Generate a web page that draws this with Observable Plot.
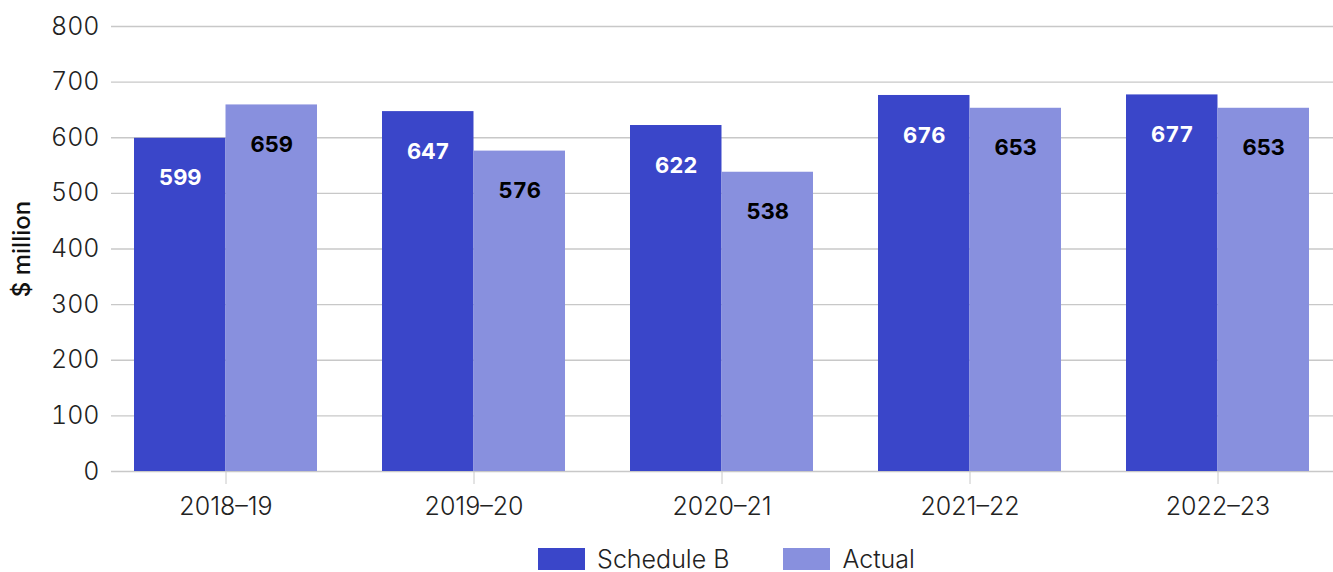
<!DOCTYPE html>
<html>
<head>
<meta charset="utf-8">
<script src="https://cdn.jsdelivr.net/npm/d3@7"></script>
<script src="https://cdn.jsdelivr.net/npm/@observablehq/plot@0.6"></script>
<style>
  html, body { margin: 0; padding: 0; background: #fff; }
  body { font-family: Inter, "Noto Sans", sans-serif; width: 1333px; height: 572px; overflow: hidden; }
  #chart svg { display: block; }
  .legend { display: flex; justify-content: center; margin-top: 17px; margin-left: 120px; font-size: 25px; line-height: 24px; color: #222; font-weight: 300; }
  .legend .item { display: flex; align-items: center; margin: 0 27px; }
  .legend .sw { width: 47px; height: 22px; margin-right: 12px; }
</style>
</head>
<body>
<div id="chart"></div>
<script>
// Annual totals, $ million
const years = ["2018–19", "2019–20", "2020–21", "2021–22", "2022–23"];
const scheduleB = [599, 647, 622, 676, 677];
const actual = [659, 576, 538, 653, 653];
const yTicks = [0, 100, 200, 300, 400, 500, 600, 700, 800];
const seriesNames = ["Schedule B", "Actual"];
const seriesColors = ["#3a46c9", "#8890de"];

const rows = years.map((year, i) => ({ year, scheduleB: scheduleB[i], actual: actual[i] }));

const width = 1333;
const height = 530;
const xRange = [102, 1342];
const paddingInner = 0.262;
const step = (xRange[1] - xRange[0]) / years.length;
const bandwidth = step * (1 - paddingInner);
const half = bandwidth / 2;

const labelFont = { fontSize: 22, fontWeight: "bold", fontFamily: "Inter, sans-serif" };

const chart = Plot.plot({
  width,
  height,
  marginTop: 26,
  marginBottom: height - 471,
  marginLeft: 111,
  marginRight: 0,
  style: { fontFamily: "Inter, sans-serif", fontSize: "25px", color: "#222", background: "#fff" },
  x: { domain: years, range: xRange, paddingInner, paddingOuter: paddingInner / 2, label: null, axis: null },
  y: { domain: [0, 800], ticks: yTicks, label: null, axis: null },
  marks: [
    Plot.ruleY(yTicks, { stroke: "#c8c8c8", strokeWidth: 1.3 }),
    Plot.barY(rows, { x: "year", y: "scheduleB", fill: seriesColors[0], insetRight: half, insetLeft: 0 }),
    Plot.barY(rows, { x: "year", y: "actual", fill: seriesColors[1], insetLeft: half, insetRight: 0 }),
    Plot.text(rows, { x: "year", y: "scheduleB", text: "scheduleB", dx: -half / 2, dy: 40, fill: "#fff", ...labelFont }),
    Plot.text(rows, { x: "year", y: "actual", text: "actual", dx: half / 2, dy: 40, fill: "#000", ...labelFont }),
    Plot.axisX({ tickSize: 13, tickPadding: 13, stroke: "#c8c8c8", fill: "#222", fontSize: 25, fontWeight: 300 }),
    Plot.axisY({ ticks: yTicks, tickSize: 0, tickPadding: 12, fill: "#222", fontSize: 25, fontWeight: 300, label: null }),
    Plot.text(["$ million"], { frameAnchor: "left", textAnchor: "middle", dx: -89, rotate: -90, fill: "#111", fontSize: 24, fontWeight: 500 })
  ]
});
document.getElementById("chart").append(chart);

// Legend row under the chart
const legend = document.createElement("div");
legend.className = "legend";
seriesNames.forEach((name, i) => {
  const item = document.createElement("div");
  item.className = "item";
  const sw = document.createElement("span");
  sw.className = "sw";
  sw.style.background = seriesColors[i];
  const label = document.createElement("span");
  label.textContent = name;
  item.append(sw, label);
  legend.append(item);
});
document.body.append(legend);
</script>
</body>
</html>
